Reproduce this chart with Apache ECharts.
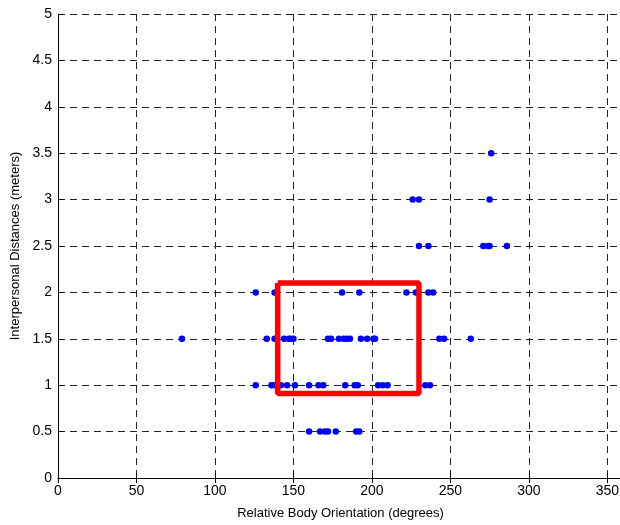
<!DOCTYPE html>
<html>
<head>
<meta charset="utf-8">
<title>Interpersonal Distance vs Relative Body Orientation</title>
<script src="https://cdn.jsdelivr.net/npm/echarts@6/dist/echarts.min.js"></script>
<style>
  html, body { margin: 0; padding: 0; background: #fff; overflow: hidden; }
  #chart { width: 620px; height: 525px; }
</style>
</head>
<body>
<div id="chart"></div>
<script>
  // orientation readings (degrees) grouped by measured distance (meters)
  const dist05 = [160, 167, 170, 172, 177, 190, 192];
  const dist10 = [126, 136, 138, 142, 146, 151, 160, 166, 169, 183, 189, 191, 204, 207, 210, 234, 237];
  const dist15 = [79, 133, 138, 144, 147, 148, 150, 172, 174, 179, 182, 184, 186, 193, 197, 201, 202, 243, 246, 263];
  const dist20 = [126, 138, 181, 192, 222, 228, 236, 239];
  const dist25 = [230, 236, 271, 274, 275, 286];
  const dist30 = [226, 230, 275];
  const dist35 = [276];

  // highlighted region (orientation / distance corners)
  const boxX = [140, 230, 230, 140, 140];
  const boxY = [2.1, 2.1, 0.91, 0.91, 2.1];

  const groups = [[0.5, dist05], [1, dist10], [1.5, dist15], [2, dist20], [2.5, dist25], [3, dist30], [3.5, dist35]];
  let points = [];
  groups.forEach(function (g) {
    g[1].forEach(function (x) {
      points.push([x, g[0]]);
    });
  });
  const boxData = boxX.map(function (x, i) { return [x, boxY[i]]; });

  const font = 'Liberation Sans, Arial, Helvetica, sans-serif';
  const gridLine = {
    show: true,
    lineStyle: { color: '#222', type: [7, 5], width: 1 }
  };

  const chart = echarts.init(document.getElementById('chart'));
  chart.setOption({
    animation: false,
    grid: { left: 58, width: 565, top: 14, bottom: 47, containLabel: false, outerBoundsMode: 'none' },
    xAxis: [{
      type: 'value',
      min: 0,
      max: 360,
      interval: 50,
      name: 'Relative Body Orientation (degrees)',
      nameLocation: 'middle',
      nameGap: 29,
      nameTextStyle: { color: '#000', fontSize: 13, fontFamily: font },
      axisLine: { show: true, onZero: false, lineStyle: { color: '#000', width: 1 } },
      axisTick: { show: true, inside: true, length: 5, lineStyle: { color: '#000' } },
      axisLabel: { color: '#000', fontSize: 14, fontFamily: font, margin: 6, showMaxLabel: false },
      splitLine: gridLine
    }, {
      type: 'value',
      position: 'top',
      min: 0,
      max: 360,
      interval: 50,
      axisLine: { show: true, lineStyle: { color: '#000', width: 1 } },
      axisTick: { show: true, inside: true, length: 5, lineStyle: { color: '#000' } },
      axisLabel: { show: false },
      splitLine: { show: false }
    }],
    yAxis: {
      type: 'value',
      min: 0,
      max: 5,
      interval: 0.5,
      name: 'Interpersonal Distances (meters)',
      nameLocation: 'middle',
      nameGap: 33,
      nameTextStyle: { color: '#000', fontSize: 13, fontFamily: font },
      axisLine: { show: true, lineStyle: { color: '#000', width: 1 } },
      axisTick: { show: true, inside: true, length: 5, lineStyle: { color: '#000' } },
      axisLabel: { color: '#000', fontSize: 14, fontFamily: font, margin: 6 },
      splitLine: gridLine
    },
    series: [{
      type: 'scatter',
      data: points,
      symbol: 'circle',
      symbolSize: 6.5,
      itemStyle: { color: '#0000ff', opacity: 1 },
      z: 3
    }, {
      type: 'line',
      data: boxData,
      symbol: 'none',
      lineStyle: { color: '#ff0000', width: 5.5 },
      z: 4
    }]
  });
</script>
</body>
</html>
